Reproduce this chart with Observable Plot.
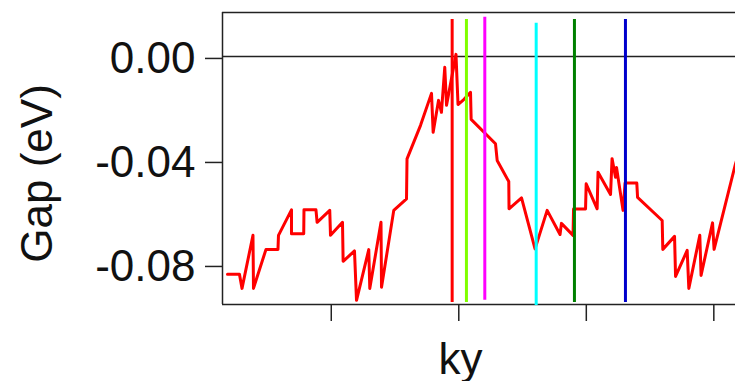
<!DOCTYPE html>
<html><head><meta charset="utf-8">
<script src="https://cdn.jsdelivr.net/npm/d3@7"></script>
<script src="https://cdn.jsdelivr.net/npm/@observablehq/plot@0.6"></script>
<style>body{margin:0;background:#fff}</style>
</head><body><div id="chart"></div>
<script>
// ky positions (arbitrary units, unlabeled ticks every 0.1) and gap values (eV)
const ky = [
  -0.1814, -0.1720, -0.1700, -0.1614, -0.1610, -0.1512, -0.1418, -0.1414, -0.1312, -0.1312,
  -0.1216, -0.1214, -0.1120, -0.1111, -0.1012, -0.1006, -0.0912, -0.0907, -0.0818, -0.0802,
  -0.0706, -0.0698, -0.0610, -0.0606, -0.0510, -0.0410, -0.0406, -0.0300, -0.0214, -0.0201,
  -0.0159, -0.0136, -0.0110, -0.0096, -0.0022, -0.0006, 0.0041, 0.0092, 0.0097, 0.0288,
  0.0301, 0.0392, 0.0394, 0.0492, 0.0598, 0.0693, 0.0794, 0.0805, 0.0896, 0.0900,
  0.0994, 0.0999, 0.1085, 0.1092, 0.1190, 0.1202, 0.1229, 0.1237, 0.1288, 0.1304,
  0.1396, 0.1402, 0.1595, 0.1600, 0.1692, 0.1700, 0.1791, 0.1804, 0.1890, 0.1900,
  0.1990, 0.2002, 0.2170, 0.2186
];
const gap = [
  -0.0838, -0.0838, -0.0892, -0.0688, -0.0892, -0.0742, -0.0742, -0.0688, -0.0590, -0.0682,
  -0.0682, -0.0590, -0.0590, -0.0638, -0.0592, -0.0688, -0.0638, -0.0788, -0.0748, -0.0938,
  -0.0743, -0.0892, -0.0638, -0.0888, -0.0592, -0.0548, -0.0394, -0.0265, -0.0142, -0.0292,
  -0.0169, -0.0215, -0.0042, -0.0188, 0.0008, -0.0185, -0.0165, -0.0138, -0.0242, -0.0336,
  -0.0400, -0.0481, -0.0586, -0.0544, -0.0740, -0.0592, -0.0685, -0.0642, -0.0688, -0.0587,
  -0.0587, -0.0490, -0.0586, -0.0445, -0.0531, -0.0393, -0.0465, -0.0427, -0.0592, -0.0487,
  -0.0487, -0.0542, -0.0631, -0.0742, -0.0692, -0.0846, -0.0746, -0.0892, -0.0688, -0.0842,
  -0.0640, -0.0742, -0.0413, -0.0388
];

// vertical marker lines
const markerKy = [-0.0052, 0.0060, 0.0204, 0.0607, 0.0907, 0.1307];
const markerTop = [0.0142, 0.0142, 0.0151, 0.0128, 0.0142, 0.0142];
const markerBottom = [-0.0946, -0.0946, -0.0938, -0.0958, -0.0946, -0.0946];
const markerColors = ["#ff0000", "#80ff00", "#ff00ff", "#00ffff", "#008000", "#0000cc"];

const yTicks = [0, -0.04, -0.08];
const xTicks = [-0.1, 0, 0.1, 0.2];
const xLabel = "ky";
const yLabel = "Gap (eV)";
const xDomain = [-0.1853, 0.2170];
const yDomain = [-0.0954, 0.0169];

const series = ky.map((k, i) => ({ky: k, gap: gap[i]}));
const markers = markerKy.map((k, i) => ({ky: k, top: markerTop[i], bottom: markerBottom[i], color: markerColors[i]}));

const axisColor = "#222";

const chart = Plot.plot({
  width: 735,
  height: 381,
  marginLeft: 222,
  marginRight: 0,
  marginTop: 12,
  marginBottom: 77,
  x: {domain: xDomain, axis: null},
  y: {domain: yDomain, axis: null},
  color: {type: "identity"},
  style: {fontFamily: "'Liberation Sans', Arial, sans-serif", fontSize: "44px", background: "#fff", color: "#111"},
  marks: [
    Plot.ruleY([0], {stroke: axisColor, strokeWidth: 1.5}),
    Plot.ruleY([yDomain[1]], {stroke: axisColor, strokeWidth: 1.5}),
    Plot.ruleY([yDomain[0]], {stroke: axisColor, strokeWidth: 1.5}),
    Plot.ruleX([xDomain[0]], {stroke: axisColor, strokeWidth: 1.5}),
    Plot.axisY(yTicks, {tickSize: 17, tickPadding: 10, tickFormat: d => d.toFixed(2), fontSize: 44, label: null, stroke: axisColor, fill: "#111", strokeWidth: 1.5, dy: 2}),
    Plot.axisX(xTicks, {tickSize: 17, tickFormat: () => "", label: null, stroke: axisColor, strokeWidth: 1.5}),
    Plot.line(series, {x: "ky", y: "gap", stroke: "#ff0000", strokeWidth: 3, clip: true}),
    Plot.ruleX(markers, {x: "ky", y1: "bottom", y2: "top", stroke: "color", strokeWidth: 3}),
    Plot.text([xLabel], {x: [0.0013], text: d => d, frameAnchor: "bottom", lineAnchor: "bottom", textAnchor: "middle", dy: 69, fontSize: 44, fill: "#111"}),
    Plot.text([yLabel], {y: [-0.045], text: d => d, frameAnchor: "left", lineAnchor: "bottom", textAnchor: "middle", rotate: -90, dx: -171, fontSize: 44, fill: "#111"})
  ]
});
document.getElementById("chart").appendChild(chart);
</script>
</body></html>
